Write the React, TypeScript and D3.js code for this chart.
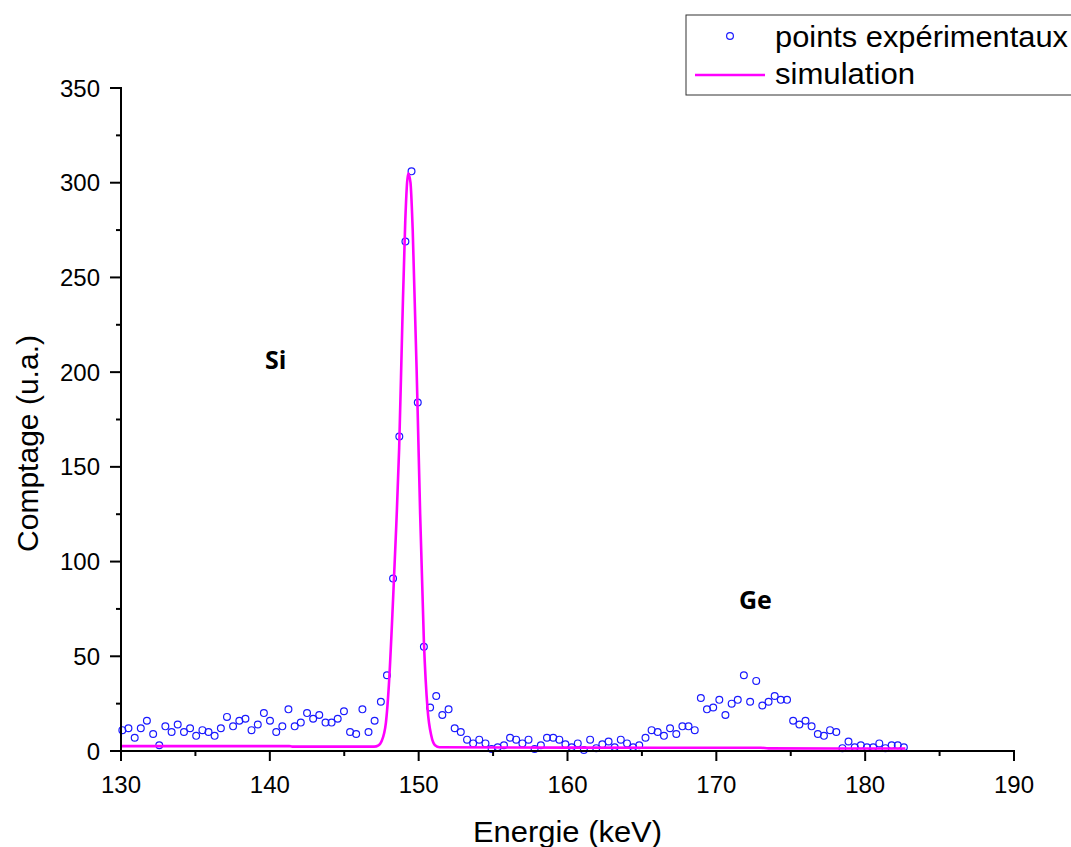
import React from "react";
import * as d3 from "d3";

const energies = [
  130.09, 130.5, 130.92, 131.33, 131.74, 132.16, 132.57, 132.98, 133.4, 133.81,
  134.23, 134.64, 135.05, 135.47, 135.88, 136.29, 136.71, 137.12, 137.53, 137.95,
  138.36, 138.77, 139.19, 139.6, 140.01, 140.43, 140.84, 141.25, 141.67, 142.08,
  142.5, 142.91, 143.32, 143.74, 144.15, 144.56, 144.98, 145.39, 145.8, 146.22,
  146.63, 147.04, 147.46, 147.87, 148.28, 148.7, 149.11, 149.52, 149.94, 150.35,
  150.77, 151.18, 151.59, 152.01, 152.42, 152.83, 153.25, 153.66, 154.07, 154.49,
  154.9, 155.31, 155.73, 156.14, 156.55, 156.97, 157.38, 157.79, 158.21, 158.62,
  159.04, 159.45, 159.86, 160.28, 160.69, 161.1, 161.52, 161.93, 162.34, 162.76,
  163.17, 163.58, 164.0, 164.41, 164.82, 165.24, 165.65, 166.06, 166.48, 166.89,
  167.31, 167.72, 168.13, 168.55, 168.96, 169.37, 169.79, 170.2, 170.61, 171.03,
  171.44, 171.85, 172.27, 172.68, 173.09, 173.51, 173.92, 174.33, 174.75, 175.16,
  175.58, 175.99, 176.4, 176.82, 177.23, 177.64, 178.06, 178.47, 178.88, 179.3,
  179.71, 180.12, 180.54, 180.95, 181.36, 181.78, 182.19, 182.6,
];

const counts = [
  11, 12, 7, 12, 16, 9, 3, 13, 10, 14,
  10, 12, 8, 11, 10, 8, 12, 18, 13, 16,
  17, 11, 14, 20, 16, 10, 13, 22, 13, 15,
  20, 17, 19, 15, 15, 17, 21, 10, 9, 22,
  10, 16, 26, 40, 91, 166, 269, 306, 184, 55,
  23, 29, 19, 22, 12, 10, 6, 4, 6, 4,
  1, 2, 3, 7, 6, 4, 6, 1, 3, 7,
  7, 6, 3.5, 2, 4, 0.5, 6, 1.5, 3.5, 5,
  2, 6, 4, 2, 3, 7, 11, 10, 8, 12,
  9, 13, 13, 11, 28, 22, 23, 27, 19, 25,
  27, 40, 26, 37, 24, 26, 29, 27, 27, 16,
  14, 16, 13, 9, 8, 11, 10, 1.5, 5, 2,
  3, 2, 2, 4, 1.5, 3, 3, 2,
];

const simEnergies = [
  130.0, 141.3, 141.5, 147.0, 147.3, 147.5, 147.8, 148.0, 148.28, 148.5,
  148.69, 148.9, 149.1, 149.3, 149.45, 149.6, 149.93, 150.1, 150.35, 150.6,
  150.85, 151.1, 151.4, 160.0, 173.0, 173.5, 178.0, 182.7,
];
const simValues = [
  2.6, 2.6, 2.3, 2.3, 3, 5, 15, 35, 80, 120,
  160, 225, 280, 305, 300, 275, 180, 125, 58, 22,
  8, 3, 2, 1.8, 1.7, 1.4, 1.3, 1.3,
];

const xTicks = [130, 140, 150, 160, 170, 180, 190];
const yTicks = [0, 50, 100, 150, 200, 250, 300, 350];

const W = 1071;
const H = 847;
const x = d3.scaleLinear().domain([130, 190]).range([121, 1014]);
const y = d3.scaleLinear().domain([0, 350]).range([751, 88]);

const font = "Arial, 'Liberation Sans', sans-serif";
const boldFont = "'Open Sans', Lato, sans-serif";

export default function App() {
  const simData = simEnergies.map((e, i) => [e, simValues[i]] as [number, number]);
  const line = d3
    .line<[number, number]>()
    .x((d) => x(d[0]))
    .y((d) => y(d[1]))
    .curve(d3.curveMonotoneX);

  const xMinor = d3.range(135, 190, 10);
  const yMinor = d3.range(25, 350, 50);

  return (
    <svg
      width={W}
      height={H}
      style={{ position: "absolute", left: 0, top: 0, background: "#fff" }}
    >
      <rect x={0} y={0} width={W} height={H} fill="#fff" />
      {energies.map((e, i) => (
        <circle
          key={i}
          cx={x(e)}
          cy={y(counts[i])}
          r={3.4}
          fill="none"
          stroke="#1a1aff"
          strokeWidth={1.2}
        />
      ))}
      <path d={line(simData) || ""} fill="none" stroke="#ff00ff" strokeWidth={2.6} />

      <line x1={121} y1={751} x2={1015} y2={751} stroke="#000" strokeWidth={2} />
      <line x1={121} y1={87} x2={121} y2={752} stroke="#000" strokeWidth={2} />
      {xTicks.map((t) => (
        <g key={"xt" + t}>
          <line x1={x(t)} x2={x(t)} y1={751} y2={761} stroke="#000" strokeWidth={2} />
          <text
            x={x(t)}
            y={793}
            textAnchor="middle"
            fontFamily={font}
            fontSize={24}
            fill="#000"
          >
            {t}
          </text>
        </g>
      ))}
      {xMinor.map((t) => (
        <line key={"xm" + t} x1={x(t)} x2={x(t)} y1={751} y2={756} stroke="#000" strokeWidth={2} />
      ))}
      {yTicks.map((t) => (
        <g key={"yt" + t}>
          <line x1={110} x2={121} y1={y(t)} y2={y(t)} stroke="#000" strokeWidth={2} />
          <text
            x={100}
            y={y(t) + 8.5}
            textAnchor="end"
            fontFamily={font}
            fontSize={24}
            fill="#000"
          >
            {t}
          </text>
        </g>
      ))}
      {yMinor.map((t) => (
        <line key={"ym" + t} x1={116} x2={121} y1={y(t)} y2={y(t)} stroke="#000" strokeWidth={2} />
      ))}

      <text
        x={473}
        y={842}
        fontFamily={font}
        fontSize={29}
        textLength={189}
        lengthAdjust="spacingAndGlyphs"
        fill="#000"
      >
        Energie (keV)
      </text>
      <text
        transform="translate(38,552) rotate(-90)"
        fontFamily={font}
        fontSize={29}
        textLength={217}
        lengthAdjust="spacingAndGlyphs"
        fill="#000"
      >
        Comptage (u.a.)
      </text>

      <text x={265} y={369} fontFamily={boldFont} fontWeight="bold" fontSize={25} fill="#000">
        Si
      </text>
      <text x={739} y={609} fontFamily={boldFont} fontWeight="bold" fontSize={25} fill="#000">
        Ge
      </text>

      <rect x={686} y={15} width={400} height={80} fill="#fff" stroke="#333" strokeWidth={1} />
      <circle cx={730} cy={36} r={3.4} fill="none" stroke="#1a1aff" strokeWidth={1.2} />
      <text
        x={775}
        y={47}
        fontFamily={font}
        fontSize={29}
        textLength={293}
        lengthAdjust="spacingAndGlyphs"
        fill="#000"
      >
        points expérimentaux
      </text>
      <line x1={695} x2={765} y1={75} y2={75} stroke="#ff00ff" strokeWidth={2.6} />
      <text
        x={775}
        y={84}
        fontFamily={font}
        fontSize={29}
        textLength={140}
        lengthAdjust="spacingAndGlyphs"
        fill="#000"
      >
        simulation
      </text>
    </svg>
  );
}
